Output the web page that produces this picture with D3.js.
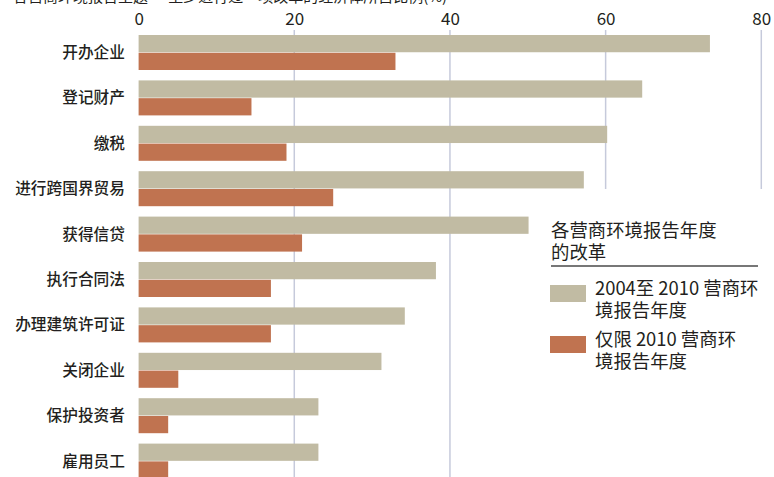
<!DOCTYPE html>
<html>
<head>
<meta charset="utf-8">
<script src="https://cdn.jsdelivr.net/npm/d3@7"></script>
<style>
  body { margin: 0; background: #fff; }
  svg { display: block; font-family: "Noto Sans CJK SC", "Noto Sans", sans-serif; }
</style>
</head>
<body>
<svg id="chart" width="774" height="477"></svg>
<script>
// categories, top to bottom
var categories = ["开办企业", "登记财产", "缴税", "进行跨国界贸易", "获得信贷",
                  "执行合同法", "办理建筑许可证", "关闭企业", "保护投资者", "雇用员工"];
var series = ["2004至 2010 营商环境报告年度", "仅限 2010 营商环境报告年度"];
var since2004 = [73.4, 64.7, 60.2, 57.2, 50.1, 38.2, 34.2, 31.2, 23.1, 23.1];
var only2010 = [33.0, 14.5, 19.0, 25.0, 21.0, 17.0, 17.0, 5.1, 3.8, 3.8];
var tickValues = [0, 20, 40, 60, 80];
var colors = ["#c1bba3", "#c07350"];

var svg = d3.select("#chart");

var x = d3.scaleLinear().domain([0, 80]).range([138.6, 761.3]);
var y = d3.scaleBand().domain(categories).range([35, 35 + 10 * 45.4]);
var ySub = d3.scaleBand().domain(series).range([0, 35]).paddingInner(0.03);

// title (cut off at top in the original)
svg.append("text")
    .attr("x", 13)
    .attr("y", 2)
    .attr("font-size", 15)
    .attr("fill", "#231f20")
    .text("各营商环境报告主题 — 至少进行过一项改革的经济体所占比例(%)");

// gridlines
svg.append("g")
    .selectAll("line")
    .data(tickValues.filter(function(d){ return d > 0; }))
    .enter()
    .append("line")
    .attr("x1", function(d){ return x(d); })
    .attr("x2", function(d){ return x(d); })
    .attr("y1", 30)
    .attr("y2", 477)
    .attr("stroke", "#c6cadb")
    .attr("stroke-width", 1.5);

// axis labels on top
var axis = svg.append("g")
    .attr("transform", "translate(0,25)")
    .call(d3.axisTop(x).tickValues(tickValues).tickSize(0).tickPadding(0));
axis.select(".domain").remove();
axis.selectAll("text")
    .attr("font-family", "'Noto Sans CJK SC', sans-serif")
    .attr("font-size", 17)
    .attr("fill", "#231f20")
    .attr("dy", 0);

// legend background hides the grid below it
svg.append("rect")
    .attr("x", 540)
    .attr("y", 189)
    .attr("width", 234)
    .attr("height", 288)
    .attr("fill", "#fff");

// bars
var rows = svg.append("g")
    .selectAll("g")
    .data(categories)
    .enter()
    .append("g")
    .attr("transform", function(d){ return "translate(0," + y(d) + ")"; });

rows.append("rect")
    .attr("x", x(0))
    .attr("y", ySub(series[0]))
    .attr("height", ySub.bandwidth())
    .attr("width", function(d, i){ return x(since2004[i]) - x(0); })
    .attr("fill", colors[0]);

rows.append("rect")
    .attr("x", x(0))
    .attr("y", ySub(series[1]))
    .attr("height", ySub.bandwidth())
    .attr("width", function(d, i){ return x(only2010[i]) - x(0); })
    .attr("fill", colors[1]);

rows.append("text")
    .attr("x", 125)
    .attr("y", 17.5)
    .attr("dy", "0.35em")
    .attr("text-anchor", "end")
    .attr("font-size", 15.7)
    .attr("font-weight", 500)
    .attr("fill", "#231f20")
    .text(function(d){ return d; });

// legend
var legend = svg.append("g");
legend.append("text")
    .attr("font-size", 18.4)
    .attr("fill", "#231f20")
    .selectAll("tspan")
    .data(["各营商环境报告年度", "的改革"])
    .enter()
    .append("tspan")
    .attr("x", 551)
    .attr("y", function(d, i){ return 237 + i * 22; })
    .text(function(d){ return d; });

legend.append("line")
    .attr("x1", 551).attr("x2", 758)
    .attr("y1", 266).attr("y2", 266)
    .attr("stroke", "#4a4a4a")
    .attr("stroke-width", 1.5);

var legendLines = [["2004至 2010 营商环", "境报告年度"], ["仅限 2010 营商环", "境报告年度"]];
var legendTop = [285, 336];

series.forEach(function(s, i){
    legend.append("rect")
        .attr("x", 550)
        .attr("y", legendTop[i])
        .attr("width", 36)
        .attr("height", 17)
        .attr("fill", colors[i]);
    legend.append("text")
        .attr("font-size", 18.4)
        .attr("fill", "#231f20")
        .selectAll("tspan")
        .data(legendLines[i])
        .enter()
        .append("tspan")
        .attr("x", 595)
        .attr("y", function(d, j){ return legendTop[i] + 10 + j * 22; })
        .text(function(d){ return d; });
});
</script>
</body>
</html>
